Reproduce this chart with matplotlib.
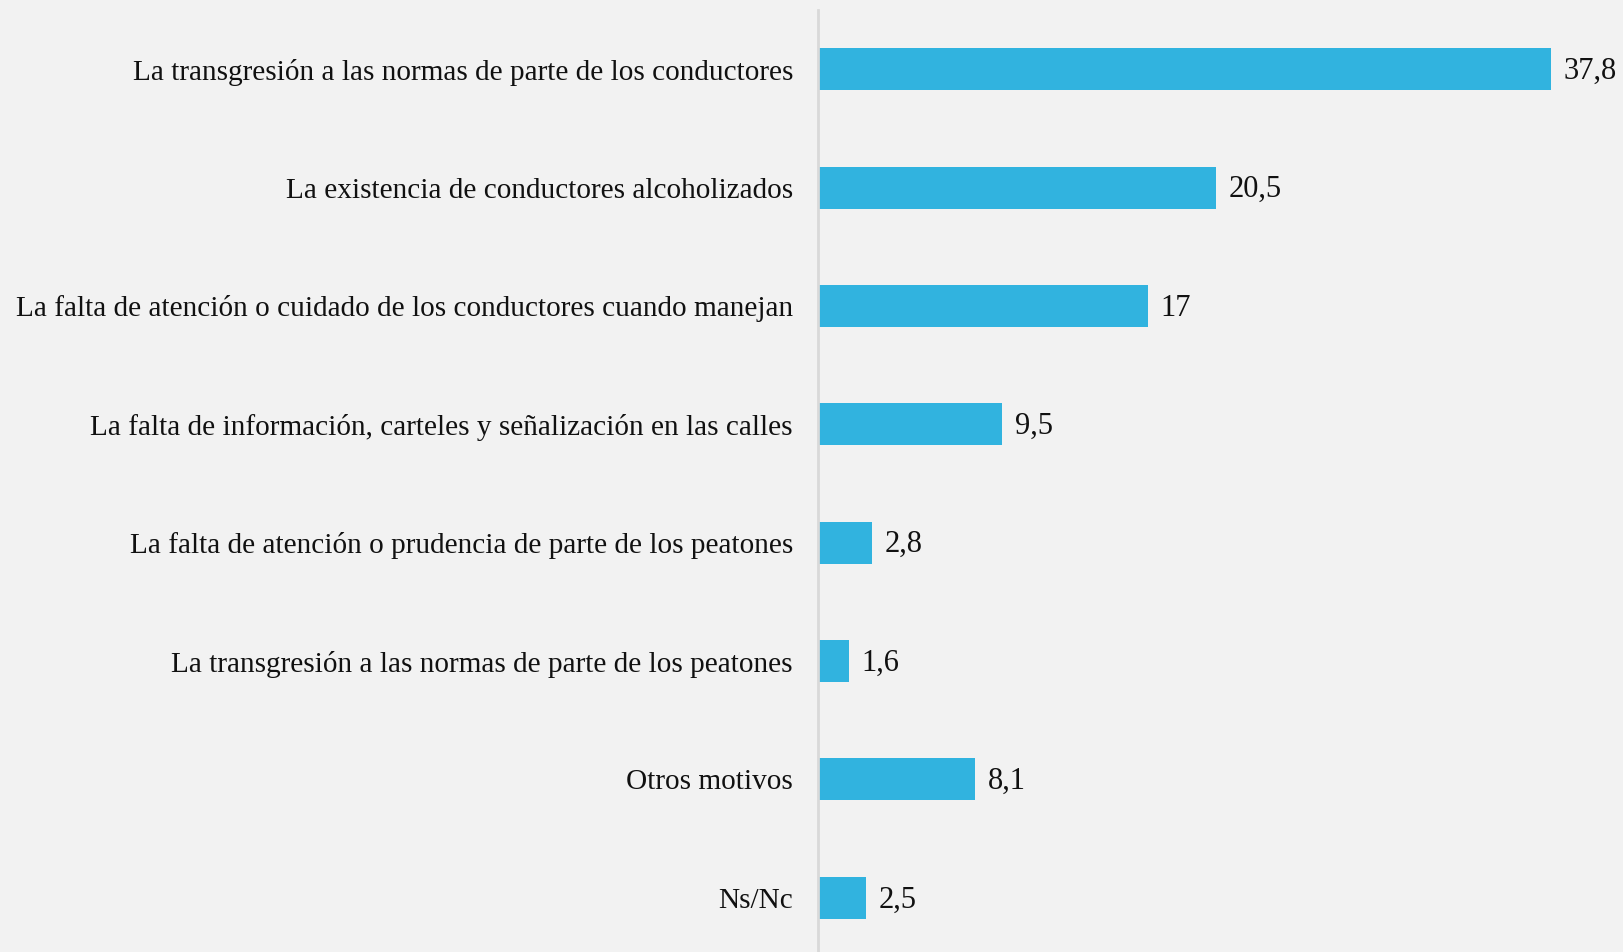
import matplotlib
matplotlib.use("Agg")
import matplotlib.pyplot as plt

categories = [
    "La transgresión a las normas de parte de los conductores",
    "La existencia de conductores alcoholizados",
    "La falta de atención o cuidado de los conductores cuando manejan",
    "La falta de información, carteles y señalización en las calles",
    "La falta de atención o prudencia de parte de los peatones",
    "La transgresión a las normas de parte de los peatones",
    "Otros motivos",
    "Ns/Nc",
]
values = [37.8, 20.5, 17, 9.5, 2.8, 1.6, 8.1, 2.5]
value_labels = ["37,8", "20,5", "17", "9,5", "2,8", "1,6", "8,1", "2,5"]

bg = "#f2f2f2"
bar_color = "#31b3df"

plt.rcParams['font.family'] = ['Liberation Serif', 'DejaVu Serif']

fig = plt.figure(figsize=(16.24, 9.52), dpi=100, facecolor=bg)
W, H = 1624, 952
ax = fig.add_axes([818 / W, -5 / H, (1624 - 818) / W, 947 / H])
ax.set_facecolor(bg)

y = list(range(len(categories)))
ax.barh(y, values, height=0.355, color=bar_color)
ax.set_ylim(len(categories) - 0.5, -0.5)
ax.set_xlim(0, (1624 - 818) / 19.4)

ax.set_yticks(y)
ax.set_yticklabels(categories, fontsize=21.1, color="#111111")
ax.tick_params(axis="y", length=0, pad=18)
ax.set_xticks([])

for s in ["top", "right", "bottom"]:
    ax.spines[s].set_visible(False)
ax.spines["left"].set_color("#d9d9d9")
ax.spines["left"].set_linewidth(2)

for yi, v, lab in zip(y, values, value_labels):
    ax.annotate(lab, (v, yi), xytext=(9, -1.5), textcoords="offset points",
                va="center", ha="left", fontsize=22, color="#111111")

fig.savefig("out.png", dpi=100, facecolor=bg)
